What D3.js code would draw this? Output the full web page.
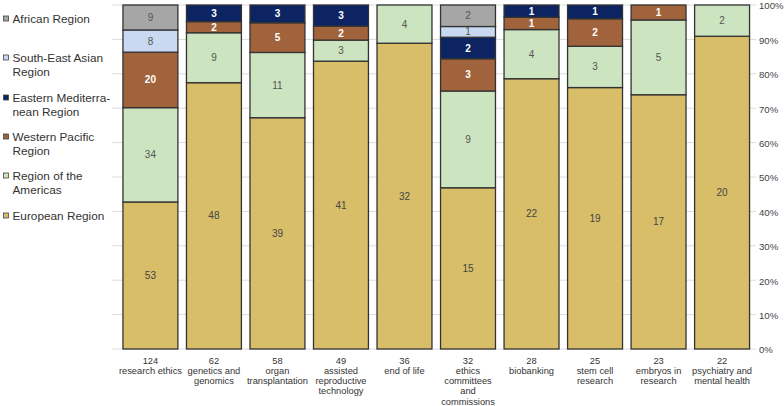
<!DOCTYPE html>
<html><head><meta charset="utf-8">
<script src="https://cdn.jsdelivr.net/npm/d3@7/dist/d3.min.js"></script>
<style>body{margin:0;background:#fff;} svg{display:block;font-family:"Liberation Sans",Arial,sans-serif;}</style>
</head><body><svg id="c" width="784" height="406"></svg>
<script>
const totals = [124, 62, 58, 49, 36, 32, 28, 25, 23, 22];
const topics = [
  ["research ethics"],
  ["genetics and", "genomics"],
  ["organ", "transplantation"],
  ["assisted", "reproductive", "technology"],
  ["end of life"],
  ["ethics", "committees", "and", "commissions"],
  ["biobanking"],
  ["stem cell", "research"],
  ["embryos in", "research"],
  ["psychiatry and", "mental health"]
];
const regions = ["European Region", "Region of the Americas", "Western Pacific Region",
  "Eastern Mediterranean Region", "South-East Asian Region", "African Region"];
const european      = [53, 48, 39, 41, 32, 15, 22, 19, 17, 20];
const americas      = [34,  9, 11,  3,  4,  9,  4,  3,  5,  2];
const westPacific   = [20,  2,  5,  2,  0,  3,  1,  2,  1,  0];
const eastMed       = [ 0,  3,  3,  3,  0,  2,  1,  1,  0,  0];
const southEastAsia = [ 8,  0,  0,  0,  0,  1,  0,  0,  0,  0];
const african       = [ 9,  0,  0,  0,  0,  2,  0,  0,  0,  0];
const yTicks = [0, 0.1, 0.2, 0.3, 0.4, 0.5, 0.6, 0.7, 0.8, 0.9, 1];

const seriesVals = [european, americas, westPacific, eastMed, southEastAsia, african];
const colors = ["#D9BE69", "#CCE4C0", "#A0633B", "#0C2461", "#C9D9F1", "#A6A6A6"];
const labelColors = ["#444", "#555", "#fff", "#fff", "#555", "#555"];
const legendLines = [
  ["African Region"],
  ["South-East Asian", "Region"],
  ["Eastern Mediterra-", "nean Region"],
  ["Western Pacific", "Region"],
  ["Region of the", "Americas"],
  ["European Region"]
];
const legendColors = [colors[5], colors[4], colors[3], colors[2], colors[1], colors[0]];

const svg = d3.select("#c");
const x = d3.scaleBand().domain(d3.range(totals.length)).range([118.5, 754]).paddingInner(0.135).paddingOuter(0.07);
const y = d3.scaleLinear().domain([0, 1]).range([349, 5]);

// gridlines
svg.append("g").selectAll("line").data(yTicks).join("line")
  .attr("x1", 112).attr("x2", 756)
  .attr("y1", d => y(d)).attr("y2", d => y(d))
  .attr("stroke", "#dcdcdc").attr("stroke-width", 1);

// right axis labels
const yAxis = d3.axisRight(y).tickValues(yTicks).tickFormat(d3.format(".0%")).tickSize(0).tickPadding(0);
const ag = svg.append("g").attr("transform", "translate(759,0)").call(yAxis);
ag.select(".domain").remove();
ag.selectAll("text").attr("font-size", 9.6).attr("fill", "#444").attr("dy", "0.4em")
  .attr("font-family", "Liberation Sans, Arial, sans-serif");

// stacked data
const rows = totals.map((t, i) => {
  const o = {i, total: t};
  regions.forEach((r, k) => o[k] = seriesVals[k][i]);
  return o;
});
const stack = d3.stack().keys(d3.range(regions.length)).offset(d3.stackOffsetExpand);
const layers = stack(rows);

const g = svg.append("g");
layers.forEach((layer, k) => {
  const segs = layer.filter(d => d[1] - d[0] > 0);
  g.selectAll(null).data(segs).join("rect")
    .attr("x", d => x(d.data.i))
    .attr("width", x.bandwidth())
    .attr("y", d => y(d[1]))
    .attr("height", d => y(d[0]) - y(d[1]))
    .attr("fill", colors[k])
    .attr("stroke", "#333")
    .attr("stroke-width", 1.3);
  g.selectAll(null).data(segs).join("text")
    .attr("x", d => x(d.data.i) + x.bandwidth() / 2)
    .attr("y", d => (y(d[0]) + y(d[1])) / 2)
    .attr("dy", "0.35em")
    .attr("text-anchor", "middle")
    .attr("font-size", 10)
    .attr("font-weight", (k === 2 || k === 3) ? "bold" : "normal")
    .attr("fill", labelColors[k])
    .text(d => d.data[k]);
});

// category labels
const cl = svg.append("g");
totals.forEach((t, i) => {
  const cx = x(i) + x.bandwidth() / 2;
  const lines = [String(t)].concat(topics[i]);
  const txt = cl.append("text").attr("text-anchor", "middle").attr("font-size", 9.3).attr("fill", "#333");
  lines.forEach((ln, j) => {
    txt.append("tspan").attr("x", cx).attr("y", 363.5 + j * 10.3).text(ln);
  });
});

// legend
const lg = svg.append("g");
const legendY = [19, 58, 98, 137, 176, 216];
legendLines.forEach((lines, k) => {
  lg.append("rect").attr("x", 3.5).attr("y", legendY[k] - 3).attr("width", 5).attr("height", 5)
    .attr("fill", legendColors[k]).attr("stroke", "#444").attr("stroke-width", 0.8);
  const t = lg.append("text").attr("font-size", 11.8).attr("fill", "#333");
  lines.forEach((ln, j) => {
    t.append("tspan").attr("x", 12.5).attr("y", legendY[k] + 4.3 + j * 14).text(ln);
  });
});
</script></body></html>
